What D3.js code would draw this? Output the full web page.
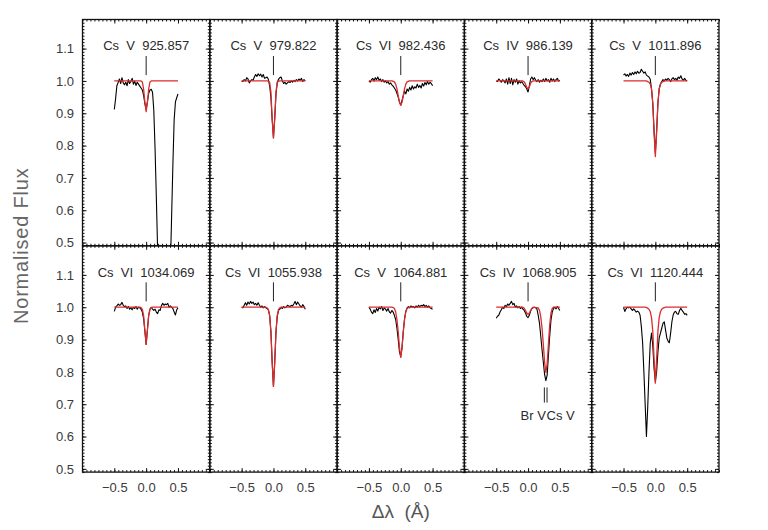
<!DOCTYPE html>
<html>
<head>
<meta charset="utf-8">
<script src="https://cdn.jsdelivr.net/npm/d3@7"></script>
<style>
  body { margin: 0; background: #fff; }
  svg { display: block; font-family: "Liberation Sans", Arial, sans-serif; }
</style>
</head>
<body>
<div id="chart"></div>
<script>
// wavelength offset grid (Angstrom) for the observed spectra
var dlam = [-0.50, -0.48, -0.46, -0.44, -0.42, -0.40, -0.38, -0.36, -0.34, -0.32,
            -0.30, -0.28, -0.26, -0.24, -0.22, -0.20, -0.18, -0.16, -0.14, -0.12,
            -0.10, -0.08, -0.06, -0.04, -0.02, 0.00, 0.02, 0.04, 0.06, 0.08,
            0.10, 0.12, 0.14, 0.16, 0.18, 0.20, 0.22, 0.24, 0.26, 0.28,
            0.30, 0.32, 0.34, 0.36, 0.38, 0.40, 0.42, 0.44, 0.46, 0.48, 0.50];

var lineLabels = ["Cs  V  925.857", "Cs  V  979.822", "Cs  VI  982.436", "Cs  IV  986.139", "Cs  V  1011.896",
                  "Cs  VI  1034.069", "Cs  VI  1055.938", "Cs  V  1064.881", "Cs  IV  1068.905", "Cs  VI  1120.444"];

// observed (normalised) flux
var obs925 = [0.912, 0.945, 0.985, 0.995, 1.006, 0.992, 1.010, 0.994, 0.988, 0.996,
              0.985, 1.004, 0.992, 0.998, 1.008, 0.990, 0.999, 0.986, 0.996, 0.990,
              0.984, 0.978, 0.972, 0.955, 0.930, 0.912, 0.935, 0.962, 0.972, 0.974,
              0.965, 0.910, 0.790, 0.640, 0.480, 0.330, 0.250, 0.220, 0.210, 0.215,
              0.230, 0.260, 0.300, 0.300, 0.420, 0.580, 0.740, 0.880, 0.935, 0.948, 0.960];
var obs979 = [1.000, 0.998, 1.004, 1.000, 1.010, 1.006, 0.994, 1.000, 1.004, 1.002,
              1.012, 1.020, 1.014, 1.022, 1.016, 1.021, 1.012, 1.020, 1.008, 1.010,
              1.012, 1.005, 0.985, 0.950, 0.880, 0.825, 0.885, 0.960, 0.995, 1.005,
              1.010, 1.012, 1.000, 0.992, 0.996, 0.990, 0.994, 0.998, 0.995, 1.000,
              0.996, 1.002, 0.998, 1.004, 1.000, 1.006, 1.002, 1.008, 0.998, 1.004, 1.000];
var obs982 = [1.000, 0.996, 1.004, 1.008, 1.000, 1.010, 1.004, 1.012, 1.002, 1.006,
              0.998, 1.004, 0.996, 1.000, 0.994, 0.998, 0.990, 0.994, 0.988, 0.984,
              0.978, 0.972, 0.962, 0.950, 0.935, 0.925, 0.940, 0.955, 0.968, 0.960,
              0.975, 0.968, 0.980, 0.972, 0.985, 0.975, 0.982, 0.978, 0.990, 0.980,
              0.986, 0.978, 0.992, 0.984, 0.995, 0.988, 0.998, 0.990, 0.996, 0.992, 0.985];
var obs986 = [1.000, 0.998, 1.006, 1.002, 0.996, 1.004, 1.000, 0.994, 1.006, 0.990,
              1.010, 0.992, 1.008, 0.988, 1.004, 0.996, 1.006, 0.990, 1.000, 0.994,
              0.998, 0.992, 0.986, 0.982, 0.975, 0.966, 0.985, 1.006, 1.012, 1.004,
              1.010, 1.002, 0.998, 1.004, 0.996, 1.002, 0.998, 1.006, 0.998, 1.008,
              1.000, 1.004, 0.996, 1.008, 1.000, 1.006, 0.998, 1.004, 1.008, 1.000, 1.002];
var obs1011 = [1.018, 1.022, 1.015, 1.020, 1.014, 1.024, 1.018, 1.026, 1.020, 1.028,
               1.022, 1.030, 1.024, 1.026, 1.036, 1.030, 1.024, 1.028, 1.018, 1.015,
               1.012, 1.005, 0.975, 0.930, 0.845, 0.777, 0.845, 0.930, 0.975, 0.990,
               0.998, 1.004, 1.000, 1.006, 1.002, 1.008, 1.004, 0.998, 1.006, 1.010,
               1.004, 1.008, 1.002, 1.012, 1.008, 1.016, 1.006, 1.002, 1.008, 1.002, 1.000];
var obs1034 = [0.987, 1.000, 1.004, 1.010, 1.006, 1.008, 1.015, 1.006, 1.002, 1.004,
               0.996, 1.002, 0.994, 0.998, 0.992, 1.000, 0.996, 1.002, 0.994, 1.000,
               0.998, 0.994, 0.985, 0.965, 0.925, 0.885, 0.930, 0.975, 0.994, 1.000,
               0.994, 0.990, 0.994, 0.985, 0.980, 0.992, 0.990, 1.005, 1.012, 1.006,
               1.010, 1.008, 1.012, 1.000, 1.004, 1.000, 0.996, 0.985, 0.976, 0.992, 0.998];
var obs1055 = [1.000, 0.998, 1.006, 1.014, 1.006, 1.016, 1.010, 1.018, 1.012, 1.016,
               1.008, 1.012, 1.006, 1.014, 1.006, 1.000, 1.004, 0.998, 1.002, 0.998,
               0.996, 0.992, 0.975, 0.925, 0.830, 0.755, 0.830, 0.925, 0.972, 0.990,
               0.994, 1.000, 0.996, 1.002, 0.998, 1.000, 1.006, 1.004, 1.002, 1.006,
               1.004, 1.010, 1.018, 1.008, 1.016, 1.010, 1.004, 1.000, 1.008, 1.002, 0.994];
var obs1064 = [1.000, 0.994, 0.985, 0.980, 0.992, 0.984, 0.996, 0.988, 1.000, 0.995,
               1.002, 0.990, 0.998, 0.994, 0.988, 0.996, 0.986, 0.982, 0.990, 0.985,
               0.975, 0.962, 0.935, 0.900, 0.862, 0.847, 0.875, 0.925, 0.965, 0.988,
               0.998, 1.002, 0.998, 1.004, 1.000, 1.002, 0.998, 1.004, 1.000, 1.006,
               1.002, 1.006, 1.004, 1.008, 1.002, 1.006, 1.000, 1.004, 0.998, 0.996, 0.994];
var obs1068 = [0.966, 0.972, 0.975, 0.985, 0.992, 1.000, 0.996, 1.006, 1.002, 1.010,
               1.006, 1.012, 1.018, 1.008, 1.012, 1.000, 1.004, 0.998, 1.002, 0.996,
               1.000, 0.994, 0.990, 0.982, 0.972, 0.968, 0.975, 0.988, 0.996, 0.998,
               1.000, 0.998, 0.994, 0.975, 0.950, 0.910, 0.868, 0.830, 0.792, 0.773,
               0.790, 0.850, 0.910, 0.960, 0.985, 0.996, 1.000, 0.995, 1.002, 0.996, 0.990];
var obs1120 = [1.000, 0.987, 0.995, 1.000, 0.998, 1.000, 0.995, 0.990, 0.995, 0.990,
               0.985, 0.988, 0.985, 0.975, 0.940, 0.890, 0.800, 0.700, 0.600, 0.690,
               0.800, 0.890, 0.920, 0.880, 0.810, 0.770, 0.800, 0.860, 0.905, 0.920,
               0.935, 0.950, 0.955, 0.930, 0.905, 0.895, 0.890, 0.920, 0.955, 0.976,
               0.985, 0.987, 0.980, 0.978, 0.990, 0.997, 0.990, 0.985, 0.978, 0.980, 0.975];

// model fits [dlam, flux]
var fit925 = [[-0.5, 1], [-0.08, 1], [-0.06, 0.997], [-0.04, 0.975], [-0.02, 0.935], [0, 0.905],
              [0.02, 0.935], [0.04, 0.975], [0.06, 0.997], [0.08, 1], [0.5, 1]];
var fit979 = [[-0.5, 1], [-0.1, 1], [-0.08, 0.999], [-0.06, 0.996], [-0.04, 0.966], [-0.02, 0.883], [0, 0.823],
              [0.02, 0.883], [0.04, 0.966], [0.06, 0.996], [0.08, 0.999], [0.1, 1], [0.5, 1]];
var fit982 = [[-0.5, 1], [-0.14, 1], [-0.12, 0.999], [-0.10, 0.997], [-0.08, 0.990], [-0.06, 0.976], [-0.04, 0.954],
              [-0.02, 0.934], [0, 0.925], [0.02, 0.934], [0.04, 0.954], [0.06, 0.976], [0.08, 0.990],
              [0.10, 0.997], [0.12, 0.999], [0.14, 1], [0.5, 1]];
var fit986 = [[-0.5, 1], [-0.08, 1], [-0.06, 0.997], [-0.04, 0.990], [-0.02, 0.980], [0, 0.975],
              [0.02, 0.982], [0.04, 0.993], [0.06, 0.998], [0.08, 1], [0.5, 1]];
var fit1011 = [[-0.5, 1], [-0.14, 1], [-0.12, 0.998], [-0.10, 0.996], [-0.08, 0.990], [-0.06, 0.975], [-0.04, 0.930],
               [-0.02, 0.840], [0, 0.766], [0.02, 0.840], [0.04, 0.930], [0.06, 0.975], [0.08, 0.990],
               [0.10, 0.996], [0.12, 0.998], [0.14, 1], [0.5, 1]];
var fit1034 = [[-0.5, 1], [-0.1, 1], [-0.08, 0.999], [-0.06, 0.993], [-0.04, 0.975], [-0.02, 0.930], [0, 0.885],
               [0.02, 0.930], [0.04, 0.975], [0.06, 0.993], [0.08, 0.999], [0.1, 1], [0.5, 1]];
var fit1055 = [[-0.5, 1], [-0.12, 1], [-0.10, 0.998], [-0.08, 0.993], [-0.06, 0.975], [-0.04, 0.925], [-0.02, 0.830],
               [0, 0.755], [0.02, 0.830], [0.04, 0.925], [0.06, 0.975], [0.08, 0.993], [0.10, 0.998], [0.12, 1], [0.5, 1]];
var fit1064 = [[-0.5, 1], [-0.14, 1], [-0.12, 0.999], [-0.10, 0.996], [-0.08, 0.986], [-0.06, 0.962], [-0.04, 0.925],
               [-0.02, 0.875], [0, 0.845], [0.02, 0.875], [0.04, 0.925], [0.06, 0.962], [0.08, 0.986],
               [0.10, 0.996], [0.12, 0.999], [0.14, 1], [0.5, 1]];
var fit1068 = [[-0.5, 1], [-0.08, 1], [-0.06, 0.997], [-0.04, 0.990], [-0.02, 0.982], [0, 0.978], [0.02, 0.982],
               [0.04, 0.990], [0.06, 0.997], [0.08, 1], [0.16, 0.998], [0.18, 0.990], [0.20, 0.970], [0.22, 0.935],
               [0.24, 0.885], [0.26, 0.830], [0.28, 0.798], [0.30, 0.825], [0.32, 0.885], [0.34, 0.945],
               [0.36, 0.982], [0.38, 0.996], [0.40, 1], [0.5, 1]];
var fit1120 = [[-0.5, 1], [-0.16, 1], [-0.14, 0.999], [-0.12, 0.997], [-0.10, 0.994], [-0.08, 0.986], [-0.06, 0.968],
               [-0.04, 0.925], [-0.02, 0.840], [0, 0.765], [0.02, 0.840], [0.04, 0.925], [0.06, 0.968],
               [0.08, 0.986], [0.10, 0.994], [0.12, 0.997], [0.14, 0.999], [0.16, 1], [0.5, 1]];

// blended lines marked under the Cs IV 1068.905 panel
var blendPos = [0.256, 0.298];
var blendNames = ["Br V", "Cs V"];

var yTicks = [0.5, 0.6, 0.7, 0.8, 0.9, 1.0, 1.1];
var xTicks = [-0.5, 0.0, 0.5];
var xTickLabels = ["\u22120.5", "0.0", "0.5"];

var observed = [obs925, obs979, obs982, obs986, obs1011, obs1034, obs1055, obs1064, obs1068, obs1120];
var fits = [fit925, fit979, fit982, fit986, fit1011, fit1034, fit1055, fit1064, fit1068, fit1120];

var W = 768, H = 530;
var gridLeft = 82.5, gridTop = 19.5, pw = 127.3, ph = 226.3;

var svg = d3.select("#chart").append("svg")
    .attr("width", W)
    .attr("height", H);

var yMinor = d3.range(0.49, 1.19, 0.01);
var xMinor = d3.range(-1, 1.0001, 0.0625);

function cleanAxis(g) {
    g.select(".domain").remove();
    g.selectAll(".tick line").attr("stroke", "#111").attr("stroke-width", 1);
    g.selectAll(".tick text").attr("fill", "#3a3a3a").style("font-size", "13px")
        .style("font-family", "'Liberation Sans', Arial, sans-serif");
}

observed.forEach(function (obs, i) {
    var col = i % 5, row = Math.floor(i / 5);
    var x0 = gridLeft + col * pw, y0 = gridTop + row * ph;
    var x = d3.scaleLinear().domain([-1, 1]).range([x0, x0 + pw]);
    var y = d3.scaleLinear().domain([0.49, 1.19]).range([y0 + ph, y0]);
    var g = svg.append("g");

    g.append("clipPath").attr("id", "clip" + i)
        .append("rect").attr("x", x0).attr("y", y0).attr("width", pw).attr("height", ph);

    // ticks on all four sides, pointing inwards
    var yLeft = d3.axisLeft(y).tickValues(yTicks).tickSize(-4).tickPadding(8.5)
        .tickFormat(col === 0 ? d3.format(".1f") : "");
    g.append("g").attr("transform", "translate(" + x0 + ",0)").call(yLeft).call(cleanAxis);
    g.append("g").attr("transform", "translate(" + x0 + ",0)")
        .call(d3.axisLeft(y).tickValues(yMinor).tickSize(-2).tickFormat("")).call(cleanAxis);
    g.append("g").attr("transform", "translate(" + (x0 + pw) + ",0)")
        .call(d3.axisRight(y).tickValues(yTicks).tickSize(-4).tickFormat("")).call(cleanAxis);
    g.append("g").attr("transform", "translate(" + (x0 + pw) + ",0)")
        .call(d3.axisRight(y).tickValues(yMinor).tickSize(-2).tickFormat("")).call(cleanAxis);

    var xBottom = d3.axisBottom(x).tickValues(xTicks).tickSize(-4).tickPadding(11)
        .tickFormat(function (d, k) { return row === 1 ? xTickLabels[k] : ""; });
    g.append("g").attr("transform", "translate(0," + (y0 + ph) + ")").call(xBottom).call(cleanAxis);
    g.append("g").attr("transform", "translate(0," + (y0 + ph) + ")")
        .call(d3.axisBottom(x).tickValues(xMinor).tickSize(-2).tickFormat("")).call(cleanAxis);
    g.append("g").attr("transform", "translate(0," + y0 + ")")
        .call(d3.axisTop(x).tickValues(xTicks).tickSize(-4).tickFormat("")).call(cleanAxis);
    g.append("g").attr("transform", "translate(0," + y0 + ")")
        .call(d3.axisTop(x).tickValues(xMinor).tickSize(-2).tickFormat("")).call(cleanAxis);

    var plot = g.append("g").attr("clip-path", "url(#clip" + i + ")");

    plot.append("path")
        .datum(obs)
        .attr("fill", "none")
        .attr("stroke", "#000")
        .attr("stroke-width", 1.1)
        .attr("stroke-linejoin", "round")
        .attr("d", d3.line()
            .x(function (d, k) { return x(dlam[k]); })
            .y(function (d) { return y(d); }));

    plot.append("path")
        .datum(fits[i])
        .attr("fill", "none")
        .attr("stroke", "#dc2b2b")
        .attr("stroke-width", 1.3)
        .attr("stroke-linejoin", "round")
        .attr("d", d3.line()
            .x(function (d) { return x(d[0]); })
            .y(function (d) { return y(d[1]); }));

    // line identification
    g.append("line")
        .attr("x1", x(0)).attr("x2", x(0))
        .attr("y1", y(1.077)).attr("y2", y(1.018))
        .attr("stroke", "#222").attr("stroke-width", 1);
    g.append("text")
        .attr("x", x(0)).attr("y", y(1.095))
        .attr("text-anchor", "middle")
        .attr("fill", "#2a2a2a")
        .style("font-size", "13px")
        .style("white-space", "pre")
        .text(lineLabels[i]);

    if (i === 8) {
        blendPos.forEach(function (b, k) {
            g.append("line")
                .attr("x1", x(b)).attr("x2", x(b))
                .attr("y1", y(0.752)).attr("y2", y(0.705))
                .attr("stroke", "#222").attr("stroke-width", 1);
            g.append("text")
                .attr("x", x(b) + (k === 0 ? 1.5 : -0.5)).attr("y", y(0.652))
                .attr("text-anchor", k === 0 ? "end" : "start")
                .attr("fill", "#2a2a2a")
                .style("font-size", "13px")
                .text(blendNames[k]);
        });
    }

    g.append("rect")
        .attr("x", x0).attr("y", y0).attr("width", pw).attr("height", ph)
        .attr("fill", "none").attr("stroke", "#111").attr("stroke-width", 1.3);
});

svg.append("text")
    .attr("transform", "translate(28," + (gridTop + ph) + ") rotate(-90)")
    .attr("text-anchor", "middle")
    .attr("fill", "#666")
    .style("font-size", "20px")
    .style("letter-spacing", "0.8px")
    .text("Normalised Flux");

svg.append("text")
    .attr("x", gridLeft + 2.5 * pw)
    .attr("y", 518)
    .attr("text-anchor", "middle")
    .attr("fill", "#555")
    .style("font-size", "19px")
    .style("white-space", "pre")
    .text("\u0394\u03bb  (\u00c5)");
</script>
</body>
</html>
